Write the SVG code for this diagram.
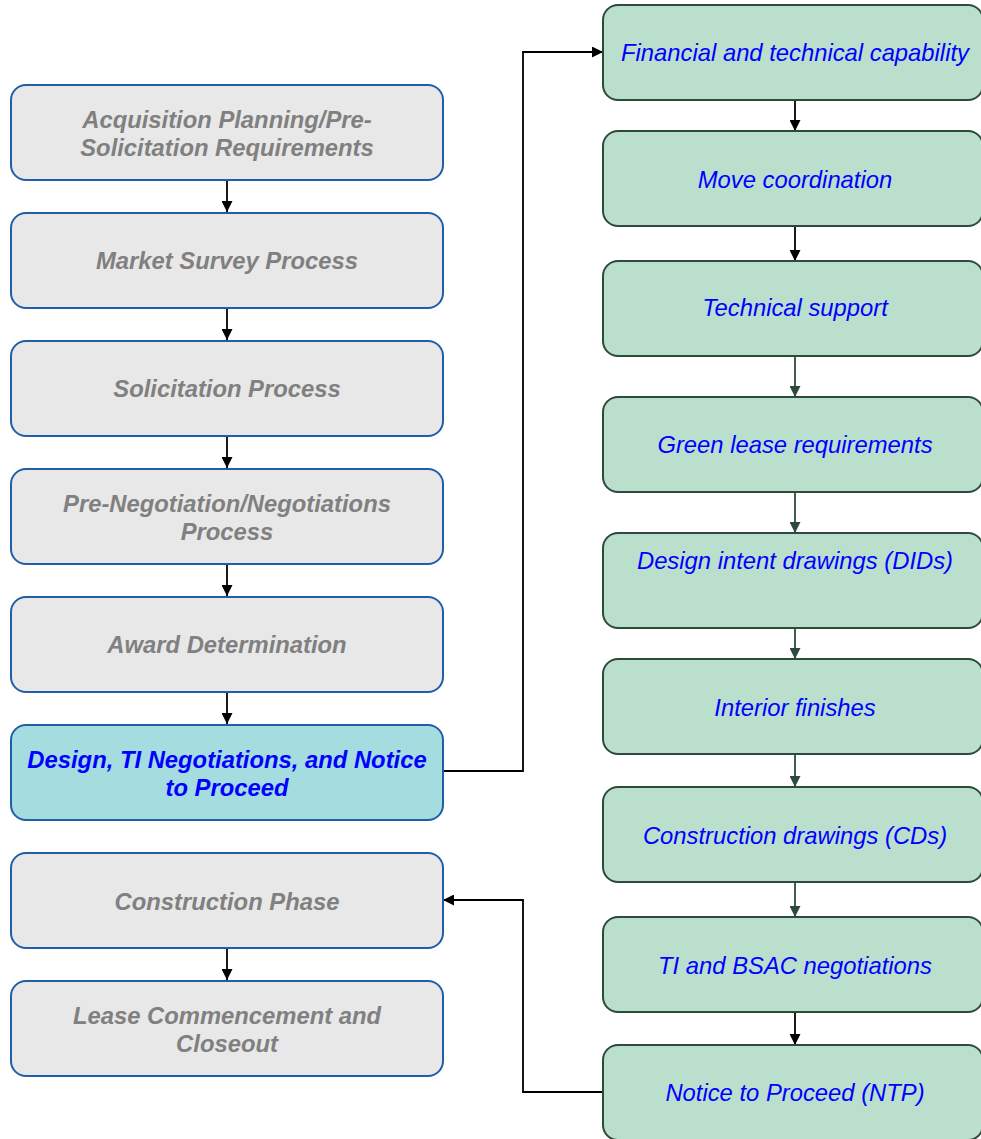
<svg xmlns="http://www.w3.org/2000/svg" width="981" height="1139" viewBox="0 0 981 1139">
  <style>
    .phase { fill: #e8e8e8; stroke: #1f5fa8; stroke-width: 2; }
    .active { fill: #a4dce0; stroke: #1f5fa8; stroke-width: 2; }
    .step { fill: #bbdfcd; stroke: #2e4a3c; stroke-width: 2; }
    .t-phase { font-family: "Liberation Sans", Arial, sans-serif; font-size: 23.8px; font-weight: bold; font-style: italic; fill: #808080; text-anchor: middle; }
    .t-active { font-family: "Liberation Sans", Arial, sans-serif; font-size: 23.8px; font-weight: bold; font-style: italic; fill: #0000ff; text-anchor: middle; }
    .t-step { font-family: "Liberation Sans", Arial, sans-serif; font-size: 23.8px; font-style: italic; fill: #0000ff; text-anchor: middle; }
    .link { fill: none; stroke: #000; stroke-width: 1.8; }
    .link-g { fill: none; stroke: #2e4a3c; stroke-width: 1.8; }
  </style>
  <defs>
    <marker id="ah" viewBox="0 0 10 10" refX="10" refY="5" markerWidth="11" markerHeight="11" markerUnits="userSpaceOnUse" orient="auto">
      <path d="M0,0 L10,5 L0,10 z" fill="#000"/>
    </marker>
    <marker id="ahg" viewBox="0 0 10 10" refX="10" refY="5" markerWidth="11" markerHeight="11" markerUnits="userSpaceOnUse" orient="auto">
      <path d="M0,0 L10,5 L0,10 z" fill="#2e4a3c"/>
    </marker>
  </defs>

  <!-- connectors -->
  <g id="connectors">
    <path class="link" d="M227,181 V212" marker-end="url(#ah)"/>
    <path class="link" d="M227,308 V340" marker-end="url(#ah)"/>
    <path class="link" d="M227,436 V468" marker-end="url(#ah)"/>
    <path class="link" d="M227,564 V596" marker-end="url(#ah)"/>
    <path class="link" d="M227,692 V724" marker-end="url(#ah)"/>
    <path class="link" d="M227,948 V980" marker-end="url(#ah)"/>
    <path class="link" d="M443,771 H523 V52 H603" marker-end="url(#ah)"/>
    <path class="link" d="M603,1092 H523 V900 H443" marker-end="url(#ah)"/>
    <path class="link" d="M795,101 V131" marker-end="url(#ah)"/>
    <path class="link" d="M795,227 V261" marker-end="url(#ah)"/>
    <path class="link-g" d="M795,357 V397" marker-end="url(#ahg)"/>
    <path class="link-g" d="M795,493 V533" marker-end="url(#ahg)"/>
    <path class="link-g" d="M795,629 V659" marker-end="url(#ahg)"/>
    <path class="link-g" d="M795,755 V787" marker-end="url(#ahg)"/>
    <path class="link-g" d="M795,883 V917" marker-end="url(#ahg)"/>
    <path class="link" d="M795,1013 V1045" marker-end="url(#ah)"/>
  </g>

  <!-- phase column -->
  <g id="acquisition-planning">
    <rect class="phase" x="11" y="85" width="432" height="95" rx="15"/>
    <text class="t-phase" x="227" y="128">Acquisition Planning/Pre-</text>
    <text class="t-phase" x="227" y="156">Solicitation Requirements</text>
  </g>
  <g id="market-survey">
    <rect class="phase" x="11" y="213" width="432" height="95" rx="15"/>
    <text class="t-phase" x="227" y="269">Market Survey Process</text>
  </g>
  <g id="solicitation">
    <rect class="phase" x="11" y="341" width="432" height="95" rx="15"/>
    <text class="t-phase" x="227" y="397">Solicitation Process</text>
  </g>
  <g id="negotiations">
    <rect class="phase" x="11" y="469" width="432" height="95" rx="15"/>
    <text class="t-phase" x="227" y="512">Pre-Negotiation/Negotiations</text>
    <text class="t-phase" x="227" y="540">Process</text>
  </g>
  <g id="award">
    <rect class="phase" x="11" y="597" width="432" height="95" rx="15"/>
    <text class="t-phase" x="227" y="653">Award Determination</text>
  </g>
  <g id="design-ti-ntp">
    <rect class="active" x="11" y="725" width="432" height="95" rx="15"/>
    <text class="t-active" x="227" y="768">Design, TI Negotiations, and Notice</text>
    <text class="t-active" x="227" y="796">to Proceed</text>
  </g>
  <g id="construction">
    <rect class="phase" x="11" y="853" width="432" height="95" rx="15"/>
    <text class="t-phase" x="227" y="910">Construction Phase</text>
  </g>
  <g id="closeout">
    <rect class="phase" x="11" y="981" width="432" height="95" rx="15"/>
    <text class="t-phase" x="227" y="1024">Lease Commencement and</text>
    <text class="t-phase" x="227" y="1052">Closeout</text>
  </g>

  <!-- detail steps -->
  <g id="financial">
    <rect class="step" x="603" y="5" width="380" height="95" rx="15"/>
    <text class="t-step" x="795" y="61">Financial and technical capability</text>
  </g>
  <g id="move">
    <rect class="step" x="603" y="131" width="380" height="95" rx="15"/>
    <text class="t-step" x="795" y="188">Move coordination</text>
  </g>
  <g id="technical">
    <rect class="step" x="603" y="261" width="380" height="95" rx="15"/>
    <text class="t-step" x="795" y="316">Technical support</text>
  </g>
  <g id="green-lease">
    <rect class="step" x="603" y="397" width="380" height="95" rx="15"/>
    <text class="t-step" x="795" y="453">Green lease requirements</text>
  </g>
  <g id="dids">
    <rect class="step" x="603" y="533" width="380" height="95" rx="15"/>
    <text class="t-step" x="795" y="569">Design intent drawings (DIDs)</text>
  </g>
  <g id="finishes">
    <rect class="step" x="603" y="659" width="380" height="95" rx="15"/>
    <text class="t-step" x="795" y="716">Interior finishes</text>
  </g>
  <g id="cds">
    <rect class="step" x="603" y="787" width="380" height="95" rx="15"/>
    <text class="t-step" x="795" y="844">Construction drawings (CDs)</text>
  </g>
  <g id="ti-bsac">
    <rect class="step" x="603" y="917" width="380" height="95" rx="15"/>
    <text class="t-step" x="795" y="974">TI and BSAC negotiations</text>
  </g>
  <g id="ntp">
    <rect class="step" x="603" y="1045" width="380" height="95" rx="15"/>
    <text class="t-step" x="795" y="1101">Notice to Proceed (NTP)</text>
  </g>
</svg>
